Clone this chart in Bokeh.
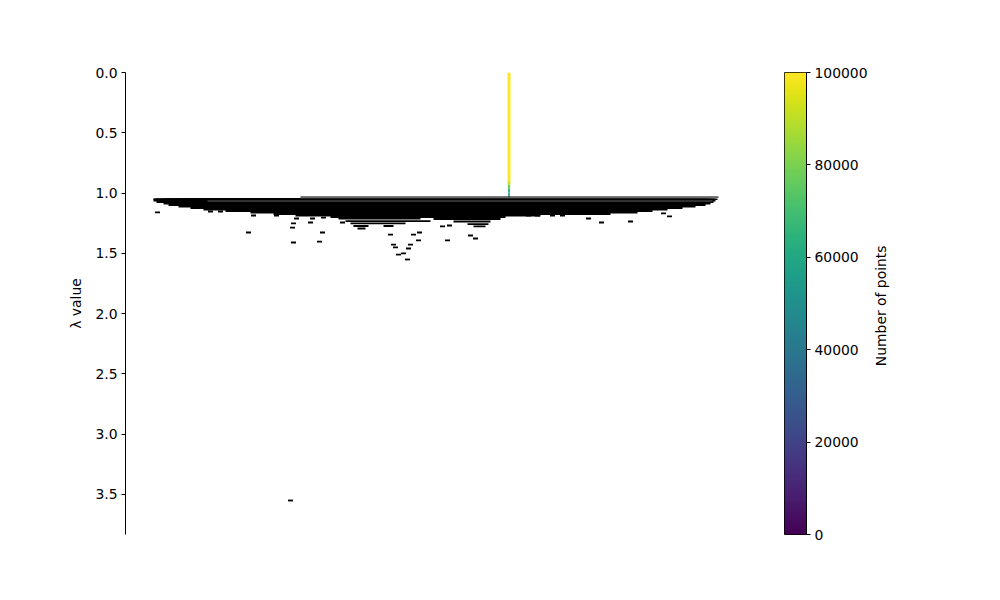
import numpy as np
from bokeh.plotting import figure
from bokeh.models import (Range1d, FixedTicker, PrintfTickFormatter, LinearColorMapper,
                          ColumnDataSource)
from bokeh.core.properties import value
from bokeh.palettes import Viridis256
from bokeh.transform import linear_cmap
from bokeh.layouts import row
from bokeh.embed import file_html
from bokeh.resources import INLINE

# ---------------- data ----------------
# root cluster stem: lambda edges and number of points in each piece
stem_x = 508.5
stem_lambda_edges = [0.0, 0.896, 0.930, 0.962, 0.995, 1.034]
stem_counts = [100000, 93000, 80000, 64000, 52000]

# first split line of the root
split_lambda = 1.034
split_x0, split_x1 = 300, 718

# dense mass of sub-clusters: one horizontal layer per lambda level (left/right extent)
layer_lambda = [1.045, 1.057, 1.070, 1.082, 1.095, 1.107, 1.120, 1.132, 1.145, 1.157, 1.169, 1.182, 1.194]
layer_left = [153, 153, 156, 163, 168, 178, 190, 203, 225, 250, 273, 295, 330]
layer_right = [717, 715, 713, 710, 705, 695, 682, 667, 652, 637, 610, 540, 505]

# deeper split lines below the mass
seg_x0 = [338, 345, 350, 353, 383, 357, 433, 453, 467, 473]
seg_x1 = [420, 430, 405, 368, 393, 365, 500, 490, 488, 485]
seg_lambda = [1.211, 1.232, 1.252, 1.273, 1.273, 1.294, 1.215, 1.236, 1.257, 1.277]

# small isolated clusters
dash_x = [157, 210, 220, 253, 276, 296, 312, 323, 293, 292, 310, 342, 248, 322, 293, 319,
          390, 413, 419, 418, 393, 395, 410, 408, 403, 398, 407, 447, 442, 449, 470, 475,
          528, 537, 552, 562, 588, 601, 630, 663, 669, 290]
dash_lambda = [1.161, 1.153, 1.153, 1.186, 1.186, 1.211, 1.211, 1.203, 1.252, 1.286, 1.244, 1.244,
               1.327, 1.327, 1.410, 1.402,
               1.344, 1.344, 1.327, 1.393, 1.427, 1.451, 1.427, 1.460, 1.501, 1.510, 1.551, 1.393,
               1.277, 1.269, 1.352, 1.377,
               1.186, 1.186, 1.186, 1.186, 1.211, 1.244, 1.236, 1.169, 1.194, 3.550]

y_ticks = [0.0, 0.5, 1.0, 1.5, 2.0, 2.5, 3.0, 3.5]
cbar_ticks = [0, 20000, 40000, 60000, 80000, 100000]
cbar_low, cbar_high = 0, 100000
cbar_title = "Number of points"

FONT = "DejaVu Sans"
FS = "13.9px"

# ---------------- main condensed tree ----------------
p = figure(width=760, height=600, x_range=Range1d(125, 745), y_range=Range1d(3.832, 0),
           output_backend="svg", toolbar_location=None, x_axis_location=None,
           min_border_left=125, min_border_right=15, min_border_top=72, min_border_bottom=66)
p.grid.visible = False
p.outline_line_color = None

# stem
stem_src = ColumnDataSource(dict(
    x=[stem_x] * len(stem_counts),
    top=stem_lambda_edges[:-1],
    bottom=stem_lambda_edges[1:],
    w=[3.0 * c / cbar_high for c in stem_counts],
    count=stem_counts,
))
p.vbar(x="x", top="top", bottom="bottom", width="w", source=stem_src, line_color=None,
       fill_color=linear_cmap("count", Viridis256, cbar_low, cbar_high))

# split line
p.segment(x0=[split_x0], x1=[split_x1], y0=[split_lambda], y1=[split_lambda],
          line_color="black", line_width=1.3)

# layers of the dense mass (each drawn from the top of the mass down to its own level)
layer_bottom = layer_lambda[1:] + [layer_lambda[-1] + 0.0125]
p.quad(left=layer_left, right=layer_right, top=[layer_lambda[0]] * len(layer_lambda),
       bottom=layer_bottom, fill_color="black", line_color=None)

# faint gaps between the stacked split lines near the top of the mass
p.segment(x0=[split_x0, 207], x1=[split_x1, 712], y0=[1.040, 1.066], y1=[1.040, 1.066],
          line_color="#a8a8a8", line_width=0.6)

# lower split lines
p.segment(x0=seg_x0, x1=seg_x1, y0=seg_lambda, y1=seg_lambda, line_color="black", line_width=1.8)

# small clusters
p.segment(x0=[x - 2.5 for x in dash_x], x1=[x + 2.5 for x in dash_x],
          y0=dash_lambda, y1=dash_lambda, line_color="black", line_width=1.8)

ax = p.yaxis[0]
ax.ticker = FixedTicker(ticks=y_ticks)
ax.formatter = PrintfTickFormatter(format="%.1f")
ax.axis_label = "λ value"
ax.axis_label_text_font = FONT
ax.axis_label_text_font_size = FS
ax.axis_label_text_font_style = "normal"
ax.axis_label_text_color = "black"
ax.axis_label_standoff = 8
ax.major_label_text_font = FONT
ax.major_label_text_font_size = FS
ax.major_label_text_color = "black"
ax.major_label_standoff = 4
ax.major_tick_out = 4
ax.major_tick_in = 0
ax.minor_tick_out = 0
ax.minor_tick_in = 0
ax.axis_line_color = "black"
ax.axis_line_width = 1
ax.major_tick_line_color = "black"

# ---------------- colorbar ----------------
p2 = figure(width=110, height=600, x_range=Range1d(0, 1), y_range=Range1d(cbar_low, cbar_high),
            output_backend="svg", toolbar_location=None, x_axis_location=None,
            y_axis_location="right",
            min_border_left=24, min_border_right=62, min_border_top=72, min_border_bottom=66)
p2.grid.visible = False
mapper = LinearColorMapper(palette=Viridis256, low=cbar_low, high=cbar_high)
grad = np.linspace(cbar_low, cbar_high, 256).reshape(256, 1)
p2.image(image=[grad], x=0, y=cbar_low, dw=1, dh=cbar_high - cbar_low, color_mapper=mapper)
p2.outline_line_color = "black"
p2.outline_line_width = 1
ax2 = p2.yaxis[0]
ax2.ticker = FixedTicker(ticks=cbar_ticks)
ax2.formatter = PrintfTickFormatter(format="%d")
ax2.major_label_text_font = FONT
ax2.major_label_text_font_size = FS
ax2.major_label_text_color = "black"
ax2.major_label_standoff = 4
ax2.major_tick_out = 4
ax2.major_tick_in = 0
ax2.minor_tick_out = 0
ax2.minor_tick_in = 0
ax2.axis_line_color = "black"
ax2.major_tick_line_color = "black"

# ---------------- colorbar title (rotated, reading upward) ----------------
p3 = figure(width=130, height=600, x_range=Range1d(0, 130), y_range=Range1d(600, 0),
            output_backend="svg", toolbar_location=None, x_axis_location=None,
            y_axis_location=None, min_border=0)
p3.grid.visible = False
p3.outline_line_color = None
p3.text(x=[10.5], y=[303], text=[cbar_title], angle=np.pi / 2, text_align="center",
        text_baseline="middle", text_font=value(FONT), text_font_size=value(FS), text_color="black")

layout = row(p, p2, p3)
open("out.html", "w").write(file_html(layout, INLINE))
